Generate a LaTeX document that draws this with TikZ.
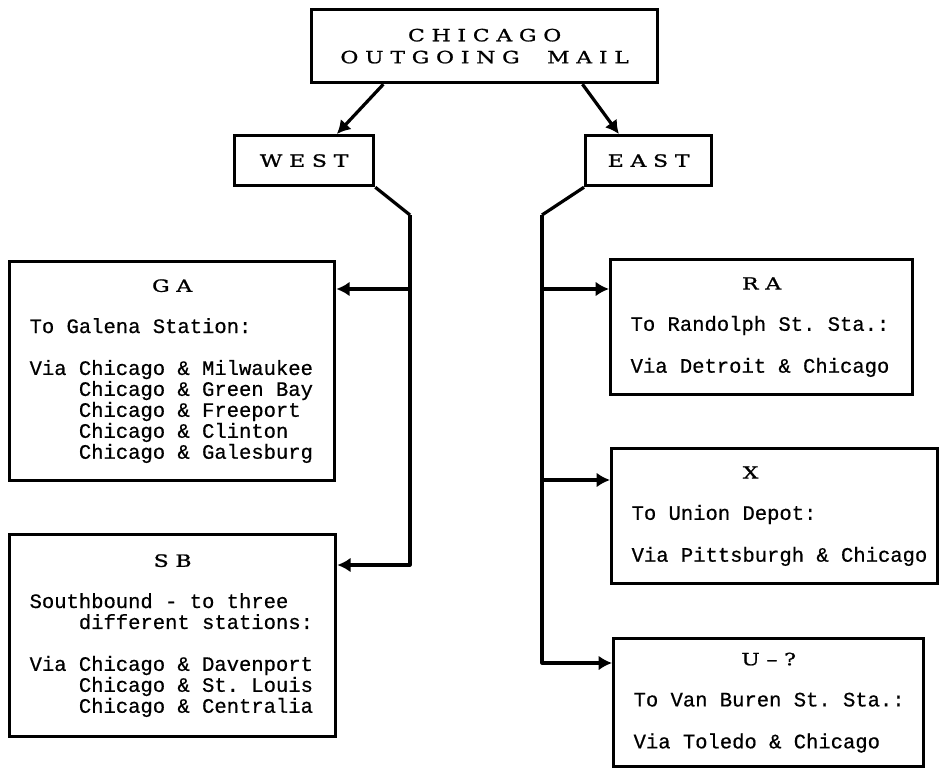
\documentclass[tikz,border=0pt]{standalone}
\usepackage{fontspec}
\setmonofont[FakeBold=0.6]{Liberation Mono}
\newfontfamily\capsfont[FakeStretch=1.3,LetterSpace=40,FakeBold=1.2]{DejaVu Serif}
\usetikzlibrary{calc,arrows.meta}

\tikzset{
  headbox/.style={draw,line width=2.3pt,anchor=north west,align=center,inner sep=0pt,
    font=\capsfont\fontsize{12}{15.6}\selectfont},
  routebox/.style={draw,line width=2.3pt,anchor=north west,align=flush left,inner xsep=0.5cm,inner ysep=0pt,
    font=\ttfamily\frenchspacing\fontsize{14.6}{14.9}\selectfont},
  feed/.style={line width=2.3pt,line join=round},
  feedarrow/.style={feed,-{Latex[length=9.5pt,width=10.5pt]}}
}
\newcommand{\boxtitle}[1]{\centerline{\capsfont\fontsize{12}{14.9}\selectfont #1}\par\vspace{14.4pt}}

\begin{document}
\begin{tikzpicture}[x=0.025cm,y=-0.025cm]
  \useasboundingbox (0,0) rectangle (940,768);

  % top of the tree
  \node[headbox,minimum width=8.65cm,minimum height=1.825cm] (chicago) at (310,8) {CHICAGO\\OUTGOING\ \ MAIL};
  \node[headbox,minimum width=3.475cm,minimum height=1.25cm] (west) at (233,134) {WEST};
  \node[headbox,minimum width=3.15cm,minimum height=1.25cm] (east) at (584,134) {EAST};

  % west side
  \node[routebox,text width=7.125cm,minimum height=5.475cm] (ga) at (8,260) {%
    \boxtitle{GA}
    To Galena Station:\\[14.9pt]
    \mbox{Via Chicago \& Milwaukee}\\
    \phantom{Viaa}Chicago \& Green Bay\\
    \phantom{Viaa}Chicago \& Freeport\\
    \phantom{Viaa}Chicago \& Clinton\\
    \phantom{Viaa}Chicago \& Galesburg};
  \node[routebox,text width=7.15cm,minimum height=5.05cm] (sb) at (8,533) {%
    \boxtitle{SB}
    Southbound - to three\\
    \phantom{Viaa}different stations:\\[14.9pt]
    \mbox{Via Chicago \& Davenport}\\
    \phantom{Viaa}Chicago \& St. Louis\\
    \phantom{Viaa}Chicago \& Centralia};

  % east side
  \node[routebox,text width=6.55cm,minimum height=3.375cm] (ra) at (609,258) {%
    \boxtitle{RA}
    \mbox{To Randolph St. Sta.:}\\[14.9pt]
    Via Detroit \& Chicago};
  \node[routebox,text width=7.15cm,minimum height=3.375cm] (x) at (610,447) {%
    \boxtitle{X\hspace{1.2cm}}
    To Union Depot:\\[14.9pt]
    \mbox{Via Pittsburgh \& Chicago}};
  \node[routebox,text width=6.75cm,minimum height=3.2cm] (u) at (612,637) {%
    \boxtitle{U\textendash?}
    \mbox{To Van Buren St. Sta.:}\\[14.9pt]
    Via Toledo \& Chicago};

  % arrows from the top box
  \draw[feedarrow] ($(chicago.south west)!0.21!(chicago.south east)$) -- ($(west.north west)!0.73!(west.north east)$);
  \draw[feedarrow] ($(chicago.south west)!0.78!(chicago.south east)$) -- ($(east.north west)!0.27!(east.north east)$);

  % west trunk
  \coordinate (wbend) at (410,215);
  \coordinate (gain) at ($(ga.north east)+(0,29)$);
  \coordinate (sbin) at ($(sb.north east)+(0,32)$);
  \draw[feed] (west.south east) -- (wbend);
  \draw[feedarrow] (wbend) |- (sbin);
  \draw[feedarrow] (wbend |- gain) -- (gain);

  % east trunk
  \coordinate (ebend) at (542,215);
  \coordinate (rain) at ($(ra.north west)+(0,31)$);
  \coordinate (xin) at ($(x.north west)+(0,33)$);
  \coordinate (uin) at ($(u.north west)+(0,26)$);
  \draw[feed] (east.south west) -- (ebend);
  \draw[feedarrow] (ebend) |- (uin);
  \draw[feedarrow] (ebend |- rain) -- (rain);
  \draw[feedarrow] (ebend |- xin) -- (xin);
\end{tikzpicture}
\end{document}
